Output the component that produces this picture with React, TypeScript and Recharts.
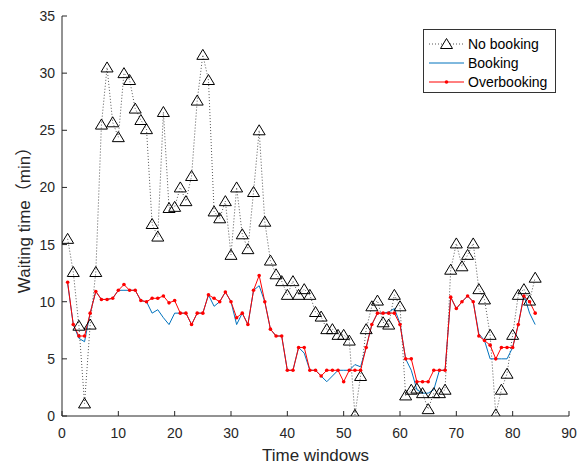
import React from 'react';
import { LineChart, Line, XAxis, YAxis } from 'recharts';

const timeWindows = Array.from({ length: 84 }, (_, i) => i + 1);

const noBooking = [
  15.5, 12.6, 7.9, 1.1, 8.0, 12.6, 25.5, 30.5, 25.7, 24.4,
  30.0, 29.4, 26.9, 25.9, 25.1, 16.8, 15.7, 26.6, 18.2, 18.3,
  20.0, 18.8, 21.0, 27.6, 31.6, 29.4, 17.9, 17.3, 18.8, 14.1,
  20.0, 15.9, 14.6, 19.6, 25.0, 17.0, 13.6, 12.4, 11.8, 10.6,
  11.8, 10.6, 11.1, 10.6, 9.1, 8.7, 7.6, 7.6, 7.1, 7.1,
  6.6, 0.1, 3.5, 7.6, 9.6, 10.1, 8.2, 8.0, 10.6, 9.6,
  1.8, 2.3, 2.4, 2.0, 0.6, 2.0, 2.0, 2.3, 12.8, 15.1,
  13.1, 14.1, 15.1, 11.1, 10.2, 7.1, 0.15, 2.3, 3.7, 7.1,
  10.6, 11.1, 10.1, 12.1,
];

const booking = [
  11.6, 8.0, 6.8, 6.5, 9.0, 10.9, 10.2, 10.2, 10.3, 11.0,
  11.0, 11.0, 11.0, 10.1, 10.0, 9.0, 9.3, 8.6, 8.0, 9.0,
  9.0, 9.0, 8.0, 9.0, 9.0, 10.6, 9.6, 10.0, 10.85, 10.0,
  8.0, 9.0, 8.0, 11.0, 11.4, 10.0, 7.6, 7.0, 7.0, 4.0,
  4.0, 6.0, 5.5, 4.0, 4.0, 3.5, 3.0, 3.5, 4.0, 4.0,
  4.0, 4.5, 4.3, 6.0, 8.0, 9.0, 9.0, 9.1, 9.4, 8.1,
  5.0, 4.0, 2.3, 2.0, 2.0, 2.3, 4.0, 4.0, 10.4, 9.4,
  10.0, 10.5, 10.0, 7.2, 6.6, 5.0, 5.0, 5.0, 5.0, 6.0,
  8.0, 10.6, 9.0, 8.0,
];

const overbooking = [
  11.7, 8.0, 7.0, 7.0, 9.0, 10.9, 10.2, 10.2, 10.3, 11.0,
  11.5, 11.0, 11.0, 10.1, 10.0, 10.3, 10.3, 10.5, 9.9, 10.1,
  9.0, 9.0, 8.0, 9.0, 9.0, 10.6, 10.3, 10.0, 10.85, 10.0,
  8.6, 9.0, 8.0, 11.0, 12.3, 10.0, 7.6, 7.0, 7.0, 4.0,
  4.0, 6.0, 6.0, 4.0, 4.0, 3.5, 4.0, 4.0, 4.0, 3.0,
  4.0, 4.0, 4.0, 6.0, 8.0, 9.0, 9.0, 9.0, 9.0, 8.0,
  5.0, 5.0, 3.0, 3.0, 3.0, 4.0, 4.0, 4.0, 10.4, 9.4,
  10.0, 10.5, 10.0, 7.0, 6.6, 6.2, 5.0, 6.0, 6.0, 6.0,
  8.0, 10.5, 10.0, 9.0,
];

const xTicks = [0, 10, 20, 30, 40, 50, 60, 70, 80, 90];
const yTicks = [0, 5, 10, 15, 20, 25, 30, 35];
const seriesNames = ['No booking', 'Booking', 'Overbooking'];

const data = timeWindows.map((t, i) => ({
  t,
  noBooking: noBooking[i],
  booking: booking[i],
  overbooking: overbooking[i],
}));

const FONT = '"Liberation Sans", Arial, "Noto Sans CJK SC", sans-serif';
const BLUE = '#0072BD';
const RED = '#FF0000';
const AXIS = '#262626';

const Triangle = (props: any) => {
  const { cx, cy, index } = props;
  if (cx == null || cy == null) return <g key={`tri-${index}`} />;
  const pts = `${cx},${cy - 5.5} ${cx - 6},${cy + 4.5} ${cx + 6},${cy + 4.5}`;
  return <polygon key={`tri-${index}`} points={pts} fill="none" stroke="#000" strokeWidth={1} />;
};

const LegendBox = () => (
  <svg width={133} height={64} style={{ display: 'block', fontFamily: FONT }}>
    <rect x={0.5} y={0.5} width={132} height={63} fill="#fff" stroke="#333" strokeWidth={1} />
    <line x1={6} x2={41} y1={15} y2={15} stroke="#555" strokeDasharray="1 2" />
    <polygon points="23.5,9.5 17.5,19.5 29.5,19.5" fill="#fff" stroke="#000" />
    <text x={45} y={20} fontSize={14} fill="#000">{seriesNames[0]}</text>
    <line x1={6} x2={41} y1={34} y2={34} stroke={BLUE} strokeWidth={1} />
    <text x={45} y={39} fontSize={14} fill="#000">{seriesNames[1]}</text>
    <line x1={6} x2={41} y1={53} y2={53} stroke={RED} strokeWidth={1} />
    <circle cx={23.5} cy={53} r={1.8} fill={RED} />
    <text x={45} y={58} fontSize={14} fill="#000">{seriesNames[2]}</text>
  </svg>
);

export default function App() {
  return (
    <div style={{ position: 'absolute', left: 0, top: 0, width: 585, height: 465, background: '#fff' }}>
      <LineChart
        width={585}
        height={465}
        data={data}
        margin={{ top: 16, right: 16, bottom: 0, left: 0 }}
        style={{ fontFamily: FONT }}
      >
        <XAxis
          dataKey="t"
          type="number"
          domain={[0, 90]}
          ticks={xTicks}
          allowDataOverflow
          height={49}
          tickSize={-5}
          tickMargin={17}
          stroke={AXIS}
          tick={{ fill: AXIS, fontSize: 14 }}
          label={{ value: 'Time windows', position: 'insideBottom', offset: 4, fill: AXIS, fontSize: 17 }}
        />
        <XAxis
          xAxisId="top"
          orientation="top"
          dataKey="t"
          type="number"
          domain={[0, 90]}
          ticks={xTicks}
          height={0}
          tickSize={-5}
          stroke={AXIS}
          tickFormatter={() => ''}
        />
        <YAxis
          type="number"
          domain={[0, 35]}
          ticks={yTicks}
          allowDataOverflow
          width={62}
          tickSize={-5}
          tickMargin={12}
          stroke={AXIS}
          tick={{ fill: AXIS, fontSize: 14 }}
          label={{ value: 'Waiting time（min）', angle: -90, position: 'insideLeft', offset: 24, textAnchor: 'middle', fill: AXIS, fontSize: 17 }}
        />
        <YAxis
          yAxisId="right"
          orientation="right"
          type="number"
          domain={[0, 35]}
          ticks={yTicks}
          width={0}
          tickSize={-5}
          stroke={AXIS}
          tickFormatter={() => ''}
        />
        <Line
          dataKey="noBooking"
          stroke="#555"
          strokeWidth={1}
          strokeDasharray="1 2"
          dot={Triangle}
          activeDot={false}
          isAnimationActive={false}
        />
        <Line
          dataKey="booking"
          stroke={BLUE}
          strokeWidth={1}
          dot={false}
          activeDot={false}
          isAnimationActive={false}
        />
        <Line
          dataKey="overbooking"
          stroke={RED}
          strokeWidth={1}
          dot={{ r: 1.8, fill: RED, stroke: 'none' }}
          activeDot={false}
          isAnimationActive={false}
        />
      </LineChart>
      <div style={{ position: 'absolute', left: 423, top: 29 }}>
        <LegendBox />
      </div>
    </div>
  );
}
